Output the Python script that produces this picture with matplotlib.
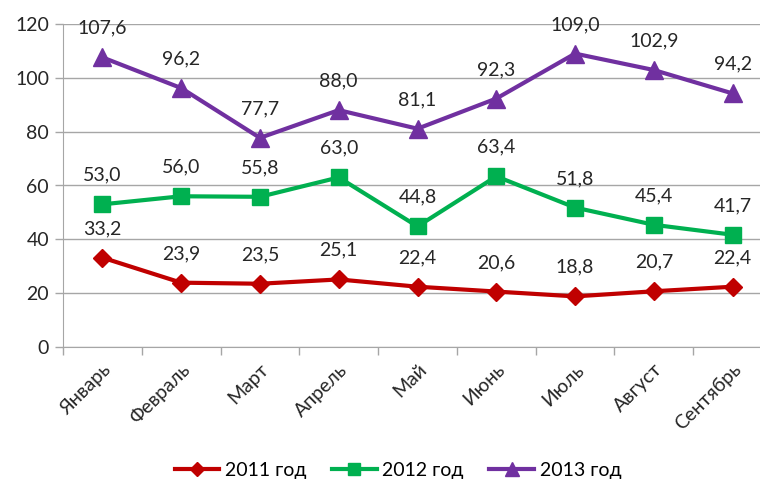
import matplotlib
matplotlib.use("Agg")
import matplotlib.pyplot as plt
import numpy as np

months = ["Январь", "Февраль", "Март", "Апрель", "Май", "Июнь", "Июль", "Август", "Сентябрь"]
s2011 = [33.2, 23.9, 23.5, 25.1, 22.4, 20.6, 18.8, 20.7, 22.4]
s2012 = [53.0, 56.0, 55.8, 63.0, 44.8, 63.4, 51.8, 45.4, 41.7]
s2013 = [107.6, 96.2, 77.7, 88.0, 81.1, 92.3, 109.0, 102.9, 94.2]
names = ["2011 год", "2012 год", "2013 год"]
yticks = [0, 20, 40, 60, 80, 100, 120]

plt.rcParams['font.family'] = ['Lato', 'DejaVu Sans']

W, H = 760, 486
fig = plt.figure(figsize=(W/100, H/100), dpi=100)
left, right, top, bottom = 63, 772, 24, 347
ax = fig.add_axes([left/W, 1-bottom/H, (right-left)/W, (bottom-top)/H])

x = np.arange(len(months))
series = [s2011, s2012, s2013]
colors = ["#C00000", "#00B050", "#7030A0"]
markers = ["D", "s", "^"]
msizes = [9, 12, 13]
for vals, c, m, ms, n in zip(series, colors, markers, msizes, names):
    ax.plot(x, vals, color=c, lw=3, marker=m, ms=ms, label=n, zorder=3)
    for xi, v in zip(x, vals):
        ax.annotate(f"{v:.1f}".replace(".", ","), (xi, v), xytext=(0, 21),
                    textcoords="offset points", ha="center", va="center",
                    fontsize=14, color="#262626")

ax.set_xlim(-0.5, len(months) - 0.5)
ax.set_ylim(0, 120)
ax.set_yticks(yticks)
ax.set_yticklabels([str(t) for t in yticks], fontsize=14, color="#262626")
ax.set_xticks(x)
ax.set_xticklabels(months, rotation=45, ha="right", rotation_mode="anchor",
                   fontsize=14, color="#262626")
ax.set_xticks(np.arange(-0.5, len(months)), minor=True)
ax.tick_params(axis="x", which="major", length=0, pad=10)
ax.tick_params(axis="x", which="minor", length=6, color="#A6A6A6", width=1)
ax.tick_params(axis="y", length=6, color="#A6A6A6", width=1, pad=4)
ax.yaxis.grid(True, color="#A6A6A6", lw=1)
ax.set_axisbelow(True)
for s in ["top", "right"]:
    ax.spines[s].set_visible(False)
for s in ["left", "bottom"]:
    ax.spines[s].set_color("#A6A6A6")

fig.legend(loc="center", bbox_to_anchor=(398/W, 1-470/H), ncol=3, frameon=False,
           fontsize=14, handlelength=2.3, columnspacing=1.3, handletextpad=0.3,
           markerscale=0.75)

fig.savefig("out.png", dpi=100)
